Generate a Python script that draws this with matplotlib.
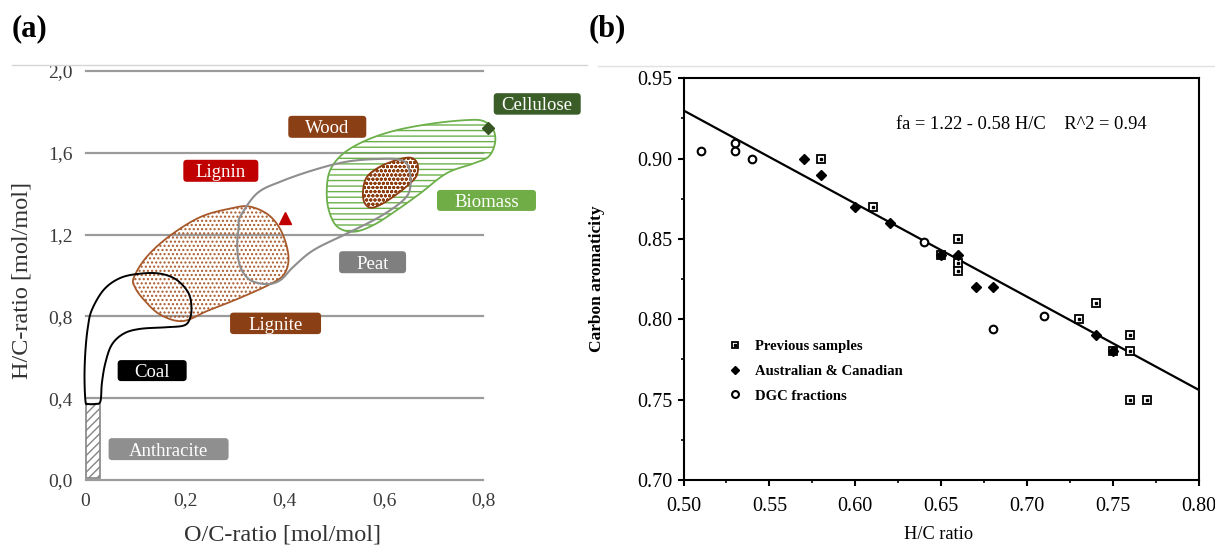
import numpy as np
import matplotlib
matplotlib.use("Agg")
import matplotlib.pyplot as plt
from matplotlib.patches import FancyBboxPatch, Rectangle
from matplotlib.transforms import ScaledTranslation
from matplotlib.legend_handler import HandlerTuple

plt.rcParams["font.family"] = ["Liberation Serif", "DejaVu Serif"]
plt.rcParams["hatch.linewidth"] = 1.0

# ---------------- (a) van Krevelen diagram ----------------
oc_ticks = [0.0, 0.2, 0.4, 0.6, 0.8]
oc_ticklabels = ["0", "0,2", "0,4", "0,6", "0,8"]
hc_ticks = [0.0, 0.4, 0.8, 1.2, 1.6, 2.0]
hc_ticklabels = ["0,0", "0,4", "0,8", "1,2", "1,6", "2,0"]

# region outlines (O/C, H/C)
coal_outline = [(0.000, 0.385), (-0.002, 0.507), (0.000, 0.637), (0.005, 0.751),
                (0.013, 0.833), (0.037, 0.931), (0.070, 0.988), (0.110, 1.009),
                (0.150, 1.009), (0.183, 0.979), (0.207, 0.914), (0.213, 0.841),
                (0.209, 0.784), (0.197, 0.755), (0.163, 0.747), (0.110, 0.739),
                (0.077, 0.716), (0.053, 0.662), (0.040, 0.573), (0.033, 0.475),
                (0.030, 0.385), (0.020, 0.372), (0.005, 0.372)]
lignite_outline = [(0.097, 0.989), (0.123, 1.091), (0.169, 1.193), (0.231, 1.286),
                   (0.292, 1.328), (0.330, 1.337), (0.369, 1.294), (0.395, 1.209),
                   (0.408, 1.091), (0.399, 1.006), (0.369, 0.955), (0.307, 0.887),
                   (0.246, 0.828), (0.195, 0.777), (0.150, 0.809), (0.118, 0.880),
                   (0.100, 0.940)]
peat_outline = [(0.311, 1.288), (0.345, 1.402), (0.392, 1.459), (0.459, 1.516),
                (0.526, 1.557), (0.592, 1.570), (0.633, 1.565), (0.649, 1.532),
                (0.653, 1.434), (0.639, 1.369), (0.592, 1.288), (0.526, 1.206),
                (0.459, 1.125), (0.418, 1.043), (0.392, 0.978), (0.365, 0.958),
                (0.331, 0.978), (0.311, 1.043), (0.305, 1.141), (0.308, 1.239)]
biomass_outline = [(0.485, 1.418), (0.492, 1.516), (0.519, 1.598), (0.566, 1.663),
                   (0.626, 1.711), (0.700, 1.744), (0.767, 1.760), (0.800, 1.755),
                   (0.820, 1.711), (0.823, 1.646), (0.810, 1.581), (0.780, 1.548),
                   (0.726, 1.500), (0.673, 1.402), (0.626, 1.320), (0.579, 1.247),
                   (0.539, 1.214), (0.506, 1.239), (0.489, 1.320)]
wood_outline = [(0.558, 1.418), (0.566, 1.483), (0.592, 1.532), (0.626, 1.565),
                (0.653, 1.576), (0.667, 1.548), (0.666, 1.491), (0.649, 1.443),
                (0.619, 1.386), (0.592, 1.345), (0.572, 1.332), (0.560, 1.361)]
anthracite_oc = [0.000, 0.030]
anthracite_hc = [0.012, 0.374]

lignin_point = (0.401, 1.281)
cellulose_point = (0.809, 1.721)

region_names = ["Cellulose", "Wood", "Lignin", "Biomass", "Peat", "Lignite", "Coal", "Anthracite"]
name_oc = [0.908, 0.486, 0.272, 0.806, 0.577, 0.382, 0.134, 0.167]
name_hc = [1.839, 1.727, 1.512, 1.367, 1.065, 0.766, 0.535, 0.151]
name_colors = ["#3b5e29", "#8b3f14", "#c00000", "#70ad47", "#7f7f7f", "#8b3f14", "#000000", "#8f8f8f"]
box_w_px = [87, 78, 75, 99, 67, 91, 69, 120]
box_h_px = [21.5, 22, 22, 21, 22, 21.5, 21, 22]

# ---------------- (b) aromaticity vs H/C ----------------
prev_hc = [0.58, 0.61, 0.65, 0.66, 0.66, 0.66, 0.73, 0.74, 0.75, 0.76, 0.76, 0.76, 0.77]
prev_fa = [0.90, 0.87, 0.84, 0.85, 0.835, 0.83, 0.80, 0.81, 0.78, 0.79, 0.78, 0.75, 0.75]
aus_hc = [0.57, 0.58, 0.60, 0.62, 0.65, 0.66, 0.67, 0.68, 0.74, 0.75]
aus_fa = [0.90, 0.89, 0.87, 0.86, 0.84, 0.84, 0.82, 0.82, 0.79, 0.78]
dgc_hc = [0.51, 0.53, 0.53, 0.54, 0.64, 0.68, 0.71]
dgc_fa = [0.905, 0.91, 0.905, 0.90, 0.848, 0.794, 0.802]
fit_intercept, fit_slope, fit_r2 = 1.22, -0.58, 0.94
fit_hc = [0.50, 0.80]
b_xticks = [0.50, 0.55, 0.60, 0.65, 0.70, 0.75, 0.80]
b_yticks = [0.70, 0.75, 0.80, 0.85, 0.90, 0.95]


def closed_curve(points, n=30):
    """Closed Catmull-Rom spline through the outline vertices."""
    P = np.asarray(points, float)
    m = len(P)
    t = np.linspace(0, 1, n, endpoint=False)[:, None]
    segs = []
    for i in range(m):
        p0, p1, p2, p3 = P[(i - 1) % m], P[i], P[(i + 1) % m], P[(i + 2) % m]
        segs.append(0.5 * (2 * p1 + (p2 - p0) * t
                           + (2 * p0 - 5 * p1 + 4 * p2 - p3) * t ** 2
                           + (3 * p1 - p0 - 3 * p2 + p3) * t ** 3))
    c = np.vstack(segs)
    return np.vstack([c, c[:1]])


W, H = 1215, 545
fig = plt.figure(figsize=(W / 100, H / 100), dpi=100)


def axes_px(left, top, right, bottom):
    return fig.add_axes([left / W, 1 - bottom / H, (right - left) / W, (bottom - top) / H])


# thin rules under the panel letters
fig.add_artist(plt.Line2D([12 / W, 587 / W], [1 - 64.5 / H] * 2, color="#d6d6d6", lw=1.0))
fig.add_artist(plt.Line2D([598 / W, 1.0], [1 - 65.5 / H] * 2, color="#e0e0e0", lw=1.0))
fig.text(12 / W, 1 - 14 / H, "(a)", fontsize=22, fontweight="bold", ha="left", va="top")
fig.text(589 / W, 1 - 14 / H, "(b)", fontsize=22, fontweight="bold", ha="left", va="top")

# ---- panel (a)
axA = axes_px(85.5, 71, 483.5, 480)
for s in axA.spines.values():
    s.set_visible(False)
for yv in hc_ticks:
    axA.axhline(yv, color="#9b9b9b", lw=1.6, zorder=0, clip_on=False)

green, brown, wood_brown, grey = "#6cb04a", "#a8592a", "#8c3d10", "#8e8e8e"
regions = [
    (biomass_outline, dict(facecolor="none", edgecolor=green, hatch="---", lw=1.3, zorder=2)),
    (lignite_outline, dict(facecolor="none", edgecolor=brown, hatch="....", lw=1.3, zorder=2)),
    (wood_outline, dict(facecolor="white", edgecolor=wood_brown, hatch="oooo", lw=1.3, zorder=3)),
    (peat_outline, dict(facecolor="none", edgecolor=grey, lw=1.5, zorder=4)),
    (coal_outline, dict(facecolor="none", edgecolor="black", lw=1.4, zorder=4)),
]
for outline, style in regions:
    c = closed_curve(outline)
    axA.fill(c[:, 0], c[:, 1], clip_on=False, **style)

axA.add_patch(Rectangle((anthracite_oc[0], anthracite_hc[0]),
                        anthracite_oc[1] - anthracite_oc[0], anthracite_hc[1] - anthracite_hc[0],
                        facecolor="white", edgecolor="#858585", hatch="////", lw=1.2, zorder=3,
                        clip_on=False))

axA.plot([lignin_point[0]], [lignin_point[1]], ls="none", marker="^", ms=9, color="#c00000",
         zorder=5, clip_on=False)
axA.plot([cellulose_point[0]], [cellulose_point[1]], ls="none", marker="D", ms=6.5,
         color="#375623", zorder=5, clip_on=False)

for name, x, y, col, bw, bh in zip(region_names, name_oc, name_hc, name_colors, box_w_px, box_h_px):
    tr = fig.dpi_scale_trans + ScaledTranslation(x, y, axA.transData)
    box = FancyBboxPatch((-bw / 200, -bh / 200), bw / 100, bh / 100,
                         boxstyle="round,pad=0,rounding_size=0.035",
                         facecolor=col, edgecolor="none", transform=tr, zorder=6, clip_on=False)
    axA.add_artist(box)
    axA.text(x, y, name, ha="center", va="center_baseline", color="white", fontsize=13.5,
             zorder=7, clip_on=False)

axA.set_xlim(0, 0.8)
axA.set_ylim(0, 2.0)
axA.set_xticks(oc_ticks)
axA.set_xticklabels(oc_ticklabels)
axA.set_yticks(hc_ticks)
axA.set_yticklabels(hc_ticklabels)
axA.tick_params(length=0, labelsize=14, labelcolor="#3a3a3a")
axA.tick_params(axis="y", pad=9)
axA.tick_params(axis="x", pad=9)
axA.set_xlabel("O/C-ratio [mol/mol]", fontsize=17.5, color="#333333", va="top")
axA.xaxis.set_label_coords(0.496, -0.108)
axA.set_ylabel("H/C-ratio [mol/mol]", fontsize=17.5, color="#333333", va="center")
axA.yaxis.set_label_coords(-0.16, 0.488)

# ---- panel (b)
axB = axes_px(683.5, 78.3, 1199, 480)
sq, = axB.plot(prev_hc, prev_fa, ls="none", marker="s", ms=5.5, mfc="white", mec="black",
               mew=1.3, zorder=3)
dot, = axB.plot(prev_hc, prev_fa, ls="none", marker="s", ms=1.6, color="black", zorder=3)
aus, = axB.plot(aus_hc, aus_fa, ls="none", marker="D", ms=5, color="black", zorder=3)
dgc, = axB.plot(dgc_hc, dgc_fa, ls="none", marker="o", ms=5.5, mfc="white", mec="black",
                mew=1.5, zorder=3)
fit_x = np.array(fit_hc)
axB.plot(fit_x, fit_intercept + fit_slope * fit_x, color="black", lw=1.6, zorder=2)
axB.text(0.6235, 0.921,
         f"fa = {fit_intercept:.2f} - {abs(fit_slope):.2f} H/C    R^2 = {fit_r2:.2f}",
         fontsize=13.3, ha="left", va="center")

axB.legend([(sq, dot), aus, dgc],
           ["Previous samples", "Australian & Canadian", "DGC fractions"],
           handler_map={tuple: HandlerTuple(ndivide=1, pad=0)},
           loc="upper left", bbox_to_anchor=(0.0863, 0.348), frameon=False,
           prop={"size": 10.5, "weight": "bold"}, handlelength=1.0, handletextpad=0.87,
           labelspacing=0.78, borderpad=0, borderaxespad=0, markerscale=0.9)

axB.set_xlim(0.50, 0.80)
axB.set_ylim(0.70, 0.95)
axB.set_xticks(b_xticks)
axB.set_xticklabels([f"{v:.2f}" for v in b_xticks])
axB.set_yticks(b_yticks)
axB.set_yticklabels([f"{v:.2f}" for v in b_yticks])
axB.set_xticks(np.arange(0.525, 0.80, 0.05), minor=True)
axB.set_yticks(np.arange(0.725, 0.95, 0.05), minor=True)
for s in axB.spines.values():
    s.set_linewidth(1.5)
axB.tick_params(which="major", direction="out", length=4, width=1.5, labelsize=14.5, pad=4)
axB.tick_params(which="minor", direction="out", length=2.5, width=1.2)
axB.tick_params(axis="x", which="major", pad=8)
axB.set_xlabel("H/C ratio", fontsize=13.2, va="top")
axB.xaxis.set_label_coords(0.494, -0.115)
axB.set_ylabel("Carbon aromaticity", fontsize=12.5, fontweight="bold", va="center")
axB.yaxis.set_label_coords(-0.168, 0.5)

fig.savefig("out.png", dpi=100)
